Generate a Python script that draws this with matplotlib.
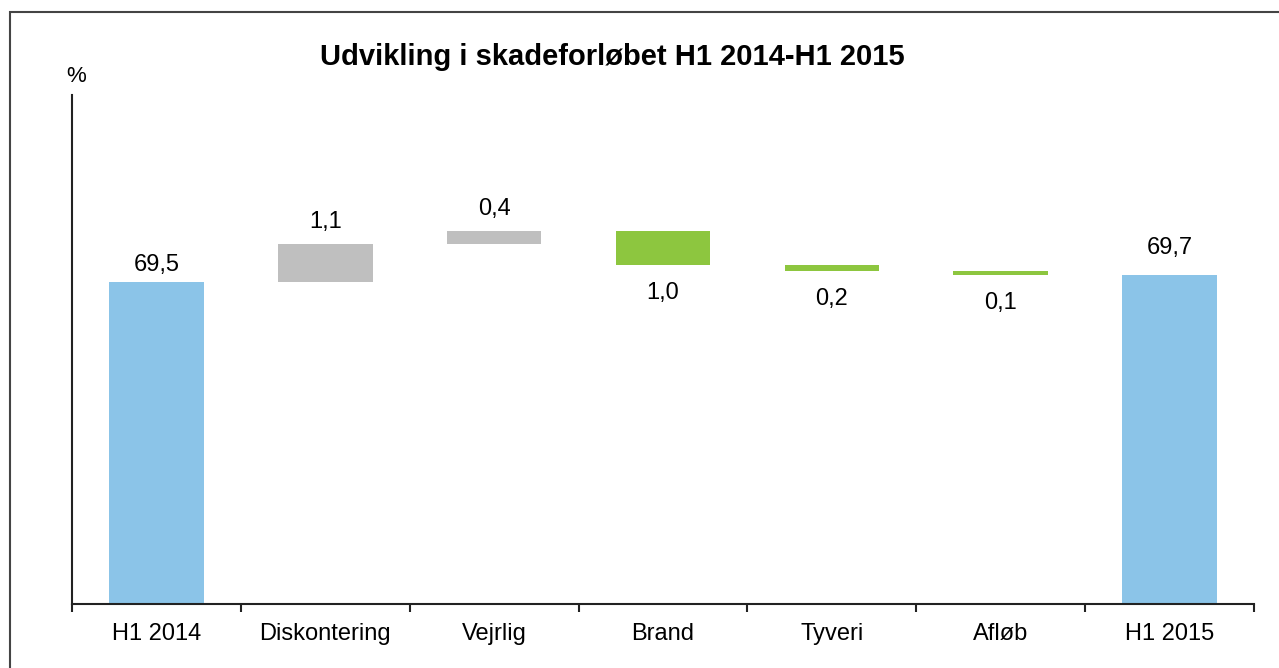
import matplotlib
matplotlib.use("Agg")
import matplotlib.pyplot as plt
from matplotlib.patches import Rectangle

plt.rcParams['font.family'] = ['Liberation Sans', 'DejaVu Sans']

categories = ["H1 2014", "Diskontering", "Vejrlig", "Brand", "Tyveri", "Afløb", "H1 2015"]
start_value = 69.5
changes = [1.1, 0.4, -1.0, -0.2, -0.1]
end_value = 69.7
labels = ["69,5", "1,1", "0,4", "1,0", "0,2", "0,1", "69,7"]

c_total = "#8BC4E8"
c_up = "#BFBFBF"
c_down = "#8DC63F"

fig = plt.figure(figsize=(12.79, 6.68), dpi=100)
ax = fig.add_axes([72/1279, 1 - 604/668, (1254-72)/1279, (604-95)/668])

ymin, ymax = 60, 75
bw = 0.56
fs = 17
dn_off = 1.0

x = list(range(len(categories)))
ax.bar(0, start_value - ymin, bottom=ymin, width=bw, color=c_total)
ax.bar(6, end_value - ymin, bottom=ymin, width=bw, color=c_total)
ax.text(0, start_value + 0.3, labels[0], ha='center', va='baseline', fontsize=fs)
ax.text(6, end_value + 0.6, labels[6], ha='center', va='baseline', fontsize=fs)

level = start_value
for i, ch in enumerate(changes, start=1):
    if ch >= 0:
        ax.bar(i, ch, bottom=level, width=bw, color=c_up)
        ax.text(i, level + ch + 0.47, labels[i], ha='center', va='baseline', fontsize=fs)
    else:
        ax.bar(i, -ch, bottom=level + ch, width=bw, color=c_down)
        ax.text(i, level + ch - dn_off, labels[i], ha='center', va='baseline', fontsize=fs)
    level += ch

ax.set_xlim(-0.5, 6.5)
ax.set_ylim(ymin, ymax)
ax.set_yticks([])
ax.set_xticks([i + 0.5 for i in range(-1, 7)], minor=False)
ax.set_xticklabels([])
ax.set_xticks(x, minor=True)
ax.set_xticklabels(categories, minor=True, fontsize=fs)
ax.tick_params(axis='x', which='major', length=6, width=1.5, direction='out', color='#222222')
ax.tick_params(axis='x', which='minor', length=0, pad=14)
for s in ['top', 'right']:
    ax.spines[s].set_visible(False)
for s in ['left', 'bottom']:
    ax.spines[s].set_linewidth(1.5)
    ax.spines[s].set_color('#222222')

fig.text(612/1279, 1 - 57/668, "Udvikling i skadeforløbet H1 2014-H1 2015",
         ha='center', va='center', fontsize=21, fontweight='bold')
fig.text(76/1279, 1 - 77/668, "%", ha='center', va='center', fontsize=16)

fig.patches.append(Rectangle((10/1279, -0.1), 1.2, 1 - 12/668 + 0.1,
                             transform=fig.transFigure, fill=False,
                             edgecolor='#444444', linewidth=1.5))

fig.savefig("out.png", dpi=100)
